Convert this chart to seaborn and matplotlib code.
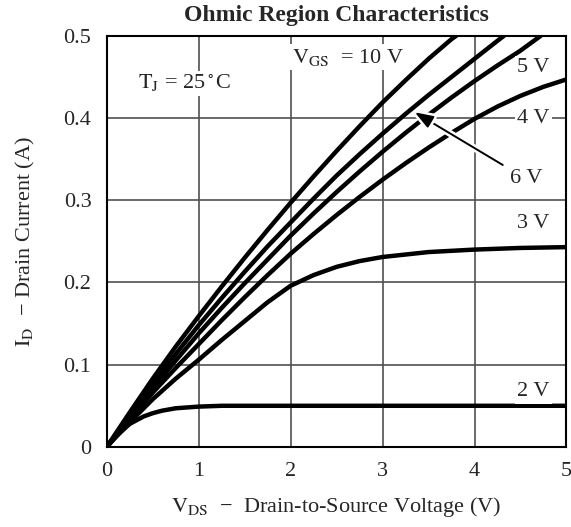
import numpy as np
import pandas as pd
import seaborn as sns
import matplotlib
matplotlib.use("Agg")
from matplotlib import pyplot as plt
from matplotlib import patheffects as pe

# values (V_DS in V, I_D in A)
vds_10 = [0, 0.25, 0.5, 0.75, 1, 1.25, 1.5, 1.75, 2, 2.25, 2.5, 2.75, 3, 3.25, 3.5, 3.75, 3.8]
id_10 = [0, 0.042, 0.083, 0.122, 0.159, 0.195, 0.23, 0.264, 0.297, 0.329, 0.36, 0.39, 0.419, 0.446, 0.472, 0.496, 0.5]

vds_6 = [0, 0.25, 0.5, 0.75, 1, 1.25, 1.5, 1.75, 2, 2.25, 2.5, 2.75, 3, 3.25, 3.5, 3.75, 4, 4.25, 4.32]
id_6 = [0, 0.039, 0.077, 0.113, 0.148, 0.181, 0.213, 0.244, 0.273, 0.302, 0.33, 0.356, 0.381, 0.405, 0.428, 0.45, 0.472, 0.494, 0.5]

vds_5 = [0, 0.25, 0.5, 0.75, 1, 1.25, 1.5, 1.75, 2, 2.25, 2.5, 2.75, 3, 3.25, 3.5, 3.75, 4, 4.25, 4.5, 4.72]
id_5 = [0, 0.036, 0.071, 0.105, 0.138, 0.169, 0.199, 0.228, 0.257, 0.284, 0.31, 0.335, 0.359, 0.382, 0.404, 0.425, 0.445, 0.464, 0.482, 0.5]

vds_4 = [0, 0.25, 0.5, 0.75, 1, 1.25, 1.5, 1.75, 2, 2.25, 2.5, 2.75, 3, 3.25, 3.5, 3.75, 4, 4.25, 4.5, 4.75, 5]
id_4 = [0, 0.034, 0.066, 0.096, 0.125, 0.154, 0.182, 0.209, 0.235, 0.259, 0.282, 0.304, 0.325, 0.345, 0.364, 0.382, 0.399, 0.414, 0.427, 0.438, 0.447]

vds_3 = [0, 0.25, 0.5, 0.75, 1, 1.25, 1.5, 1.75, 2, 2.25, 2.5, 2.75, 3, 3.25, 3.5, 4, 4.5, 5]
id_3 = [0, 0.03, 0.058, 0.083, 0.106, 0.13, 0.153, 0.176, 0.196, 0.209, 0.219, 0.226, 0.231, 0.234, 0.237, 0.240, 0.242, 0.243]

vds_2 = [0, 0.1, 0.25, 0.4, 0.5, 0.6, 0.75, 1, 1.25, 5]
id_2 = [0, 0.013, 0.028, 0.037, 0.041, 0.044, 0.047, 0.049, 0.05, 0.05]

series = [("10 V", vds_10, id_10), ("6 V", vds_6, id_6), ("5 V", vds_5, id_5),
          ("4 V", vds_4, id_4), ("3 V", vds_3, id_3), ("2 V", vds_2, id_2)]

x_ticks = [0, 1, 2, 3, 4, 5]
y_ticks = [0, 0.1, 0.2, 0.3, 0.4, 0.5]
y_ticklabels = ["0", "0.1", "0.2", "0.3", "0.4", "0.5"]

sns.set_style("white")
plt.rcParams["font.family"] = ["Liberation Serif", "DejaVu Serif"]
plt.rcParams["mathtext.fontset"] = "stix"

FS = 16

fig = plt.figure(figsize=(5.71, 5.27), dpi=100)
left, right, bottom, top = 0.187, 0.992, 0.152, 0.932
ax = fig.add_axes([left, bottom, right - left, top - bottom])

for name, xs, ys in series:
    df = pd.DataFrame({"vds": xs, "id": ys})
    sns.lineplot(data=df, x="vds", y="id", ax=ax, color="black", lw=3.2,
                 solid_capstyle="round", solid_joinstyle="round", zorder=3)

ax.set_xlim(0, 5)
ax.set_ylim(0, 0.5)
ax.set_xticks(x_ticks)
ax.set_xticklabels([str(t) for t in x_ticks])
ax.set_yticks(y_ticks)
ax.set_yticklabels(y_ticklabels)
ax.tick_params(length=0, labelsize=FS, pad=11)
ax.grid(True, color="#505050", lw=1.2)
ax.set_axisbelow(True)
for s in ax.spines.values():
    s.set_color("black")
    s.set_linewidth(1.5)
    s.set_zorder(5)

ax.set_xlabel(r"$\mathrm{V_{DS}}$  −  Drain-to-Source Voltage (V)", fontsize=FS, labelpad=10)
ax.set_ylabel(r"$\mathrm{I_D}$  − Drain Current (A)", fontsize=FS, labelpad=19)
fig.text((left + right) / 2, 1 - 15 / 527, "Ohmic Region Characteristics",
         fontsize=17, fontweight="bold", ha="center", va="center")

box = dict(boxstyle="square,pad=0.1", fc="white", ec="none")
ax.text(2.02, 0.474, r"$\mathrm{V_{GS}}$  = 10 V", fontsize=FS, ha="left", va="center", bbox=box, zorder=4)
ax.text(0.34, 0.442, r"$\mathrm{T_J}$ = 25$^\circ$C", fontsize=FS, ha="left", va="center", bbox=box, zorder=4)
ax.text(4.64, 0.461, "5 V", fontsize=FS, ha="center", va="center", bbox=box, zorder=4)
ax.text(4.64, 0.400, "4 V", fontsize=FS, ha="center", va="center", bbox=box, zorder=4)
ax.text(4.64, 0.272, "3 V", fontsize=FS, ha="center", va="center", bbox=box, zorder=4)
ax.text(4.64, 0.067, "2 V", fontsize=FS, ha="center", va="center", bbox=box, zorder=4)

ax.annotate("6 V", xy=(3.35, 0.407), xytext=(4.56, 0.326), fontsize=FS,
            ha="center", va="center", bbox=box, zorder=6,
            arrowprops=dict(arrowstyle="-|>,head_length=0.7,head_width=0.25", color="black",
                            lw=1.4, shrinkA=4, shrinkB=0,
                            path_effects=[pe.withStroke(linewidth=5, foreground="white")]))

fig.savefig("out.png", dpi=100)
